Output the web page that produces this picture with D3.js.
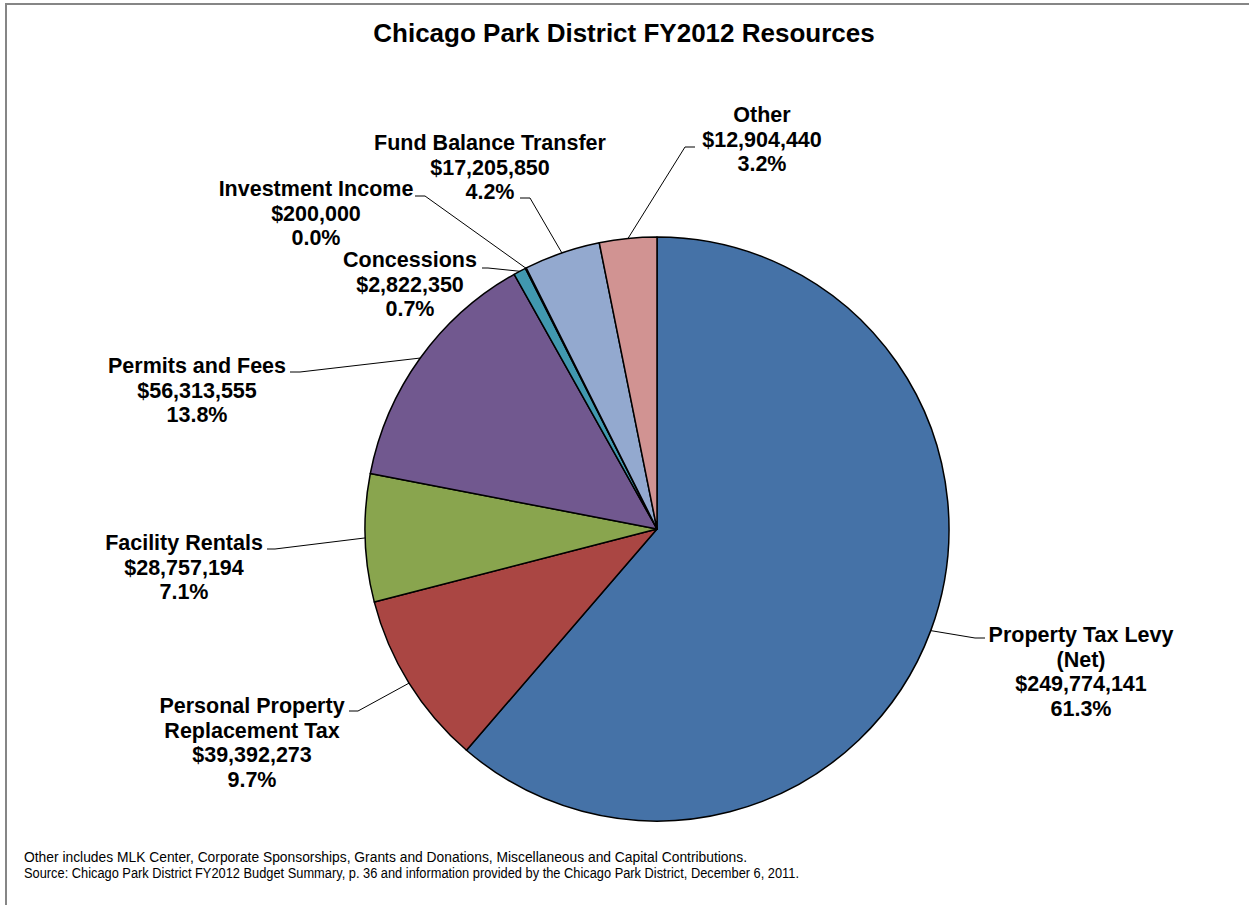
<!DOCTYPE html>
<html>
<head>
<meta charset="utf-8">
<script src="https://cdn.jsdelivr.net/npm/d3@7"></script>
<style>
  body { margin: 0; background: #fff; }
  svg { display: block; font-family: Arial, "Liberation Sans", sans-serif; }
</style>
</head>
<body>
<svg id="chart" width="1249" height="905"></svg>
<script>
// ------------ DATA -----------------

const categories = [
  "Property Tax Levy (Net)",
  "Personal Property Replacement Tax",
  "Facility Rentals",
  "Permits and Fees",
  "Concessions",
  "Investment Income",
  "Fund Balance Transfer",
  "Other"
];

const values = [249774141, 39392273, 28757194, 56313555, 2822350, 200000, 17205850, 12904440];

// how each category name is broken into lines on the label
const nameLines = [
  ["Property Tax Levy", "(Net)"],
  ["Personal Property", "Replacement Tax"],
  ["Facility Rentals"],
  ["Permits and Fees"],
  ["Concessions"],
  ["Investment Income"],
  ["Fund Balance Transfer"],
  ["Other"]
];

const colors = ["#4572A7", "#AA4643", "#89A54E", "#71588F", "#4198AF", "#DB843D", "#93A9CF", "#D19392"];

const title = "Chicago Park District FY2012 Resources";
const notes = [
  "Other includes MLK Center, Corporate Sponsorships, Grants and Donations, Miscellaneous and Capital Contributions.",
  "Source: Chicago Park District FY2012 Budget Summary, p. 36 and information provided by the Chicago Park District, December 6, 2011."
];

// ------------ LAYOUT -----------------

const W = 1249, H = 905;
const cx = 657, cy = 529, radius = 292;
const lineH = 24.5;
const noteWidths = [723, 775]; // the notes are set tight, like the original

// label centre x / first baseline, and leader line corner + end, per slice
const labelLayout = [
  { x: 1081, y: 642, corner: [975, 638], end: [985, 638] },
  { x: 252,  y: 713, corner: [358, 711], end: [349, 711] },
  { x: 184,  y: 550, corner: [275, 549], end: [267, 549] },
  { x: 197,  y: 373, corner: [300, 372], end: [290, 372] },
  { x: 410,  y: 267, corner: [488, 268], end: [482, 268] },
  { x: 316,  y: 196, corner: [425, 196], end: [415, 196] },
  { x: 490,  y: 150, corner: [530, 198], end: [520, 198] },
  { x: 762,  y: 122, corner: [685, 147], end: [695, 147] }
];

const svg = d3.select("#chart");

// chart frame
svg.append("rect")
  .attr("x", 6).attr("y", 4)
  .attr("width", W + 20).attr("height", H + 20)
  .attr("fill", "#fff")
  .attr("stroke", "#868686")
  .attr("stroke-width", 2);

svg.append("text")
  .attr("x", 624).attr("y", 42)
  .attr("text-anchor", "middle")
  .attr("font-size", 26)
  .attr("font-weight", "bold")
  .text(title);

// ------------ PIE -----------------

const total = d3.sum(values);
const fmtMoney = d3.format("$,");
const fmtPct = d3.format(".1%");

const pie = d3.pie().sort(null).value(i => values[i]);
const arcs = pie(d3.range(values.length));
const arc = d3.arc().innerRadius(0).outerRadius(radius);

const g = svg.append("g").attr("transform", `translate(${cx},${cy})`);

g.selectAll("path")
  .data(arcs)
  .join("path")
  .attr("d", arc)
  .attr("fill", d => colors[d.data])
  .attr("stroke", "#000")
  .attr("stroke-width", 1.5)
  .attr("stroke-linejoin", "round");

// ------------ LABELS -----------------

function edgePoint(d) {
  const a = (d.startAngle + d.endAngle) / 2;
  return [cx + radius * Math.sin(a), cy - radius * Math.cos(a)];
}

svg.append("g")
  .selectAll("polyline")
  .data(arcs)
  .join("polyline")
  .attr("points", d => {
    const L = labelLayout[d.data];
    return [edgePoint(d), L.corner, L.end].map(p => p.join(",")).join(" ");
  })
  .attr("fill", "none")
  .attr("stroke", "#000")
  .attr("stroke-width", 1);

const labels = svg.append("g")
  .selectAll("text")
  .data(arcs)
  .join("text")
  .attr("text-anchor", "middle")
  .attr("font-size", 21.5)
  .attr("font-weight", "bold")
  .attr("fill", "#000");

labels.each(function(d) {
  const i = d.data;
  const L = labelLayout[i];
  const lines = nameLines[i].concat([fmtMoney(values[i]), fmtPct(values[i] / total)]);
  d3.select(this).selectAll("tspan")
    .data(lines)
    .join("tspan")
    .attr("x", L.x)
    .attr("y", (t, k) => L.y + k * lineH)
    .text(t => t);
});

// ------------ NOTES -----------------

svg.append("g")
  .selectAll("text")
  .data(notes)
  .join("text")
  .attr("x", 24)
  .attr("y", (t, k) => 862 + k * 16)
  .attr("font-size", 13.8)
  .attr("textLength", (t, k) => noteWidths[k])
  .attr("lengthAdjust", "spacingAndGlyphs")
  .attr("fill", "#000")
  .text(t => t);
</script>
</body>
</html>
